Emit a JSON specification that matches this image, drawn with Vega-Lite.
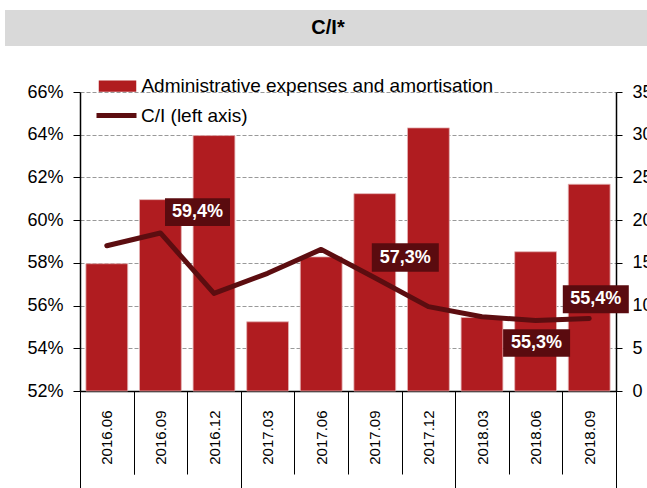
{
  "$schema": "https://vega.github.io/schema/vega-lite/v6.json",
  "padding": {"left": -2, "top": 10, "right": 0, "bottom": 0},
  "bounds": "flush",
  "spacing": 46,
  "config": {
    "font": "Liberation Sans",
    "view": {"stroke": null},
    "axis": {"labelFont": "Liberation Sans", "labelColor": "#000000", "domainColor": "#000000", "tickColor": "#000000"},
    "legend": {"labelFont": "Liberation Sans", "labelColor": "#000000"}
  },
  "datasets": {
    "q": [
      {"period": "2016.06", "amount": 14.9, "ci": 0.588, "label": ""},
      {"period": "2016.09", "amount": 22.4, "ci": 0.594, "label": "59,4%"},
      {"period": "2016.12", "amount": 29.9, "ci": 0.5657, "label": ""},
      {"period": "2017.03", "amount": 8.1, "ci": 0.5751, "label": ""},
      {"period": "2017.06", "amount": 15.7, "ci": 0.5863, "label": ""},
      {"period": "2017.09", "amount": 23.1, "ci": 0.573, "label": "57,3%"},
      {"period": "2017.12", "amount": 30.8, "ci": 0.5595, "label": ""},
      {"period": "2018.03", "amount": 8.6, "ci": 0.5548, "label": ""},
      {"period": "2018.06", "amount": 16.3, "ci": 0.553, "label": "55,3%"},
      {"period": "2018.09", "amount": 24.2, "ci": 0.554, "label": "55,4%"}
    ]
  },
  "vconcat": [
    {
      "width": 642,
      "height": 36,
      "view": {"fill": "#d9d9d9", "stroke": null},
      "data": {"values": [{"t": "C/I*"}]},
      "mark": {"type": "text", "font": "Liberation Sans", "fontWeight": "bold", "fontSize": 20, "color": "#000000", "baseline": "middle", "align": "center", "dx": 2},
      "encoding": {"text": {"field": "t", "type": "nominal"}}
    },
    {
      "width": 642,
      "height": 299,
      "data": {"name": "q"},
      "layer": [
        {
          "mark": {"type": "bar", "width": {"band": 0.78}, "stroke": "#e3b3b4", "strokeWidth": 0.8},
          "encoding": {
            "x": {
              "field": "period", "type": "ordinal", "sort": null,
              "scale": {"type": "band", "paddingInner": 0, "paddingOuter": 0, "range": [75, 611]},
              "axis": {"orient": "bottom", "title": null, "labelAngle": 270, "labelFontSize": 15, "tickBand": "extent", "tickSize": 83, "labelPadding": -64, "domainWidth": 1.5, "domainColor": "#000000", "grid": false}
            },
            "y": {
              "field": "amount", "type": "quantitative",
              "scale": {"domain": [0, 35], "nice": false, "zero": true},
              "axis": {"orient": "right", "offset": -31, "values": [0, 5, 10, 15, 20, 25, 30, 35], "title": null, "grid": false, "tickSize": 6, "labelPadding": 10, "labelFontSize": 18, "domainWidth": 1.5}
            },
            "fill": {
              "datum": "Administrative expenses and amortisation", "type": "nominal",
              "scale": {"range": ["#b01c20"]},
              "legend": {"orient": "none", "legendX": 100, "legendY": 63.5, "title": null, "padding": 0, "symbolType": "M-1.5,-0.45H1.5V0.45H-1.5Z", "symbolSize": 625, "symbolStrokeWidth": 0, "labelFontSize": 19, "labelOffset": 11.4, "labelLimit": 500}
            }
          }
        },
        {
          "layer": [
            {
              "mark": {"type": "line", "strokeWidth": 5, "strokeCap": "round", "strokeJoin": "round"},
              "encoding": {
                "x": {
                  "field": "period", "type": "ordinal", "sort": null,
                  "scale": {"type": "band", "paddingInner": 0, "paddingOuter": 0, "range": [75, 611]},
                  "axis": {"orient": "bottom", "title": null, "labels": false, "domain": false, "tickBand": "extent", "values": ["2016.06", "2016.12", "2017.12", "2018.09"], "tickSize": {"condition": {"test": "datum.value === '2016.06' && !datum.extra", "value": 83}, "value": 97}, "grid": false}
                },
                "y": {
                  "field": "ci", "type": "quantitative",
                  "scale": {"domain": [0.52, 0.66], "nice": false, "zero": false},
                  "axis": {"orient": "left", "offset": -75, "format": ".0%", "values": [0.52, 0.54, 0.56, 0.58, 0.6, 0.62, 0.64, 0.66], "grid": true, "gridDash": [4, 2], "gridColor": "#999999", "gridWidth": 1, "tickSize": 7, "labelPadding": 10, "labelFontSize": 18, "title": null, "domainWidth": 1.5}
                },
                "stroke": {
                  "datum": "C/I (left axis)", "type": "nominal",
                  "scale": {"range": ["#5c0d10"]},
                  "legend": {"orient": "none", "legendX": 89, "legendY": 83, "title": null, "padding": 0, "symbolType": "stroke", "symbolSize": 1600, "symbolStrokeWidth": 5, "labelFontSize": 19, "labelOffset": 2, "labelLimit": 500}
                }
              }
            },
            {
              "transform": [{"filter": {"field": "period", "equal": "2016.09"}}],
              "layer": [
                {"mark": {"type": "point", "shape": "M0.46,-3.46H6.96V-0.7H0.46Z", "size": 400, "filled": true, "fill": "#5a0b0f", "opacity": 1, "strokeWidth": 0},
                 "encoding": {"x": {"field": "period", "type": "ordinal", "sort": null}, "y": {"field": "ci", "type": "quantitative"}}},
                {"mark": {"type": "text", "dx": 37.1, "dy": -20.8, "color": "#ffffff", "fontWeight": "bold", "fontSize": 18, "baseline": "middle", "align": "center"},
                 "encoding": {"x": {"field": "period", "type": "ordinal", "sort": null}, "y": {"field": "ci", "type": "quantitative"}, "text": {"field": "label", "type": "nominal"}}}
              ]
            },
            {
              "transform": [{"filter": {"field": "period", "equal": "2017.09"}}],
              "layer": [
                {"mark": {"type": "point", "shape": "M-0.3,-3.45H6.4V-0.61H-0.3Z", "size": 400, "filled": true, "fill": "#5a0b0f", "opacity": 1, "strokeWidth": 0},
                 "encoding": {"x": {"field": "period", "type": "ordinal", "sort": null}, "y": {"field": "ci", "type": "quantitative"}}},
                {"mark": {"type": "text", "dx": 30.5, "dy": -20.3, "color": "#ffffff", "fontWeight": "bold", "fontSize": 18, "baseline": "middle", "align": "center"},
                 "encoding": {"x": {"field": "period", "type": "ordinal", "sort": null}, "y": {"field": "ci", "type": "quantitative"}, "text": {"field": "label", "type": "nominal"}}}
              ]
            },
            {
              "transform": [{"filter": {"field": "period", "equal": "2018.06"}}],
              "layer": [
                {"mark": {"type": "point", "shape": "M-3.25,0.88H3.45V3.62H-3.25Z", "size": 400, "filled": true, "fill": "#5a0b0f", "opacity": 1, "strokeWidth": 0},
                 "encoding": {"x": {"field": "period", "type": "ordinal", "sort": null}, "y": {"field": "ci", "type": "quantitative"}}},
                {"mark": {"type": "text", "dx": 1, "dy": 22.5, "color": "#ffffff", "fontWeight": "bold", "fontSize": 18, "baseline": "middle", "align": "center"},
                 "encoding": {"x": {"field": "period", "type": "ordinal", "sort": null}, "y": {"field": "ci", "type": "quantitative"}, "text": {"field": "label", "type": "nominal"}}}
              ]
            },
            {
              "transform": [{"filter": {"field": "period", "equal": "2018.09"}}],
              "layer": [
                {"mark": {"type": "point", "shape": "M-2.64,-3.32H3.96V-0.52H-2.64Z", "size": 400, "filled": true, "fill": "#5a0b0f", "opacity": 1, "strokeWidth": 0},
                 "encoding": {"x": {"field": "period", "type": "ordinal", "sort": null}, "y": {"field": "ci", "type": "quantitative"}}},
                {"mark": {"type": "text", "dx": 6.6, "dy": -19.2, "color": "#ffffff", "fontWeight": "bold", "fontSize": 18, "baseline": "middle", "align": "center"},
                 "encoding": {"x": {"field": "period", "type": "ordinal", "sort": null}, "y": {"field": "ci", "type": "quantitative"}, "text": {"field": "label", "type": "nominal"}}}
              ]
            }
          ]
        }
      ],
      "resolve": {"scale": {"y": "independent"}, "axis": {"x": "independent", "y": "independent"}}
    }
  ]
}
